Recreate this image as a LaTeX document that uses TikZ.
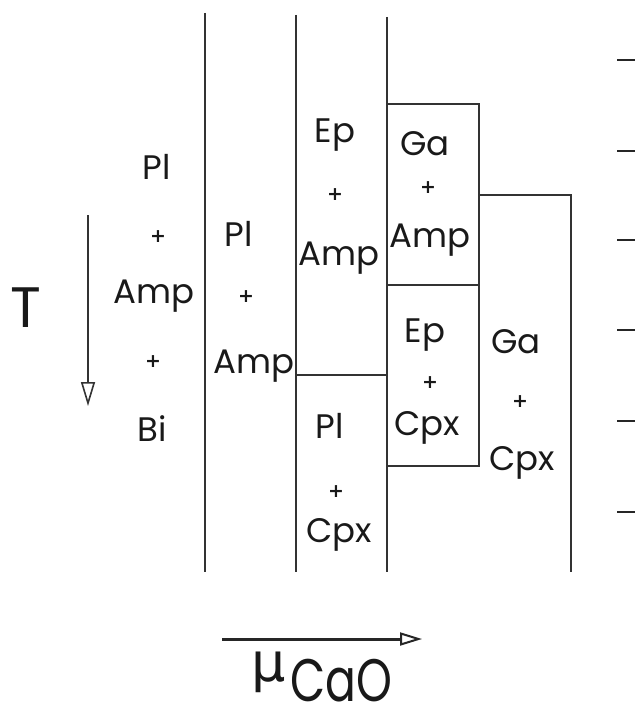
\documentclass[tikz,border=0pt]{standalone}
\usepackage{fontspec}
\setmainfont{Poppins}
\newfontfamily\greekfont{DejaVu Sans}
\usetikzlibrary{arrows.meta}
\begin{document}
\begin{tikzpicture}[x=1pt,y=-1pt,
  ln/.style={line width=1.6pt, draw=black!80},
  lbl/.style={font=\fontsize{34}{34}\selectfont, anchor=base, inner sep=0pt, text=black!90},
  pls/.style={font=\greekfont\fontsize{19}{19}\selectfont\bfseries, inner sep=0pt, text=black!90},
  tick/.style={line width=1.7pt, draw=black!85},
]
\useasboundingbox (0,0) rectangle (635,709);
% vertical boundaries
\coordinate (v1t) at (205,13);  \coordinate (v1b) at (205,572);
\coordinate (v2t) at (296,15);  \coordinate (v2b) at (296,572);
\coordinate (v3t) at (387,17);  \coordinate (v3b) at (387,572);
\draw[ln] (v1t) -- (v1b);
\draw[ln] (v2t) -- (v2b);
\draw[ln] (v3t) -- (v3b);
% box A
\coordinate (a1) at (387,104); \coordinate (a2) at (479,104);
\coordinate (a3) at (479,466); \coordinate (a4) at (387,466);
\coordinate (am1) at (387,285); \coordinate (am2) at (479,285);
\draw[ln] (a1) -- (a2) -- (a3) -- (a4);
\draw[ln] (am1) -- (am2);
% box B
\coordinate (b1) at (480,195); \coordinate (b2) at (571,195); \coordinate (b3) at (571,572);
\draw[ln] (b1) -- (b2) -- (b3);
% horizontal in column 3
\coordinate (h1) at (296,375); \coordinate (h2) at (387,375);
\draw[ln] (h1) -- (h2);
% ticks
\foreach \y [count=\i] in {60,151,240,330,421,512}{
  \coordinate (tk\i a) at (617,\y); \coordinate (tk\i b) at (635,\y);
  \draw[tick] (tk\i a) -- (tk\i b);
}
% T arrow
\coordinate (ta) at (88,215); \coordinate (tb) at (88,406);
\draw[ln, -{Triangle[open,length=24pt,width=14pt]}] (ta) -- (tb);
\node[font=\fontsize{57}{57}\selectfont, inner sep=0pt, anchor=base, text=black!90] (T) at (26,327) {T};
% mu arrow
\coordinate (ma) at (222,639); \coordinate (mb) at (422,639);
\draw[line width=3pt, draw=black!85, -{Triangle[open,length=22pt,width=13pt,line width=2pt]}] (ma) -- (mb);
\node[font=\greekfont\fontsize{54}{54}\selectfont, inner sep=0pt, anchor=base west, text=black!90] (mu) at (251,681) {μ};
\node[font=\fontsize{60}{60}\selectfont, inner sep=0pt, anchor=base west, text=black!90] (cao) at (290,701) {\scalebox{0.76}[1]{CaO}};
% column 1
\node[lbl] (c1a) at (157,179) {Pl};
\node[pls] (c1p1) at (158,237) {+};
\node[lbl] (c1b) at (154,303) {Amp};
\node[pls] (c1p2) at (153,362) {+};
\node[lbl] (c1c) at (152,441) {Bi};
% column 2
\node[lbl] (c2a) at (239,246) {Pl};
\node[pls] (c2p1) at (246,297) {+};
\node[lbl] (c2b) at (254,373) {Amp};
% column 3
\node[lbl] (c3a) at (335,142) {Ep};
\node[pls] (c3p1) at (335,195) {+};
\node[lbl] (c3b) at (339,265) {Amp};
\node[lbl] (c3c) at (330,438) {Pl};
\node[pls] (c3p2) at (336,492) {+};
\node[lbl] (c3d) at (339,542) {Cpx};
% column 4
\node[lbl] (c4a) at (425,155) {Ga};
\node[pls] (c4p1) at (428,188) {+};
\node[lbl] (c4b) at (430,247) {Amp};
\node[lbl] (c4c) at (425,342) {Ep};
\node[pls] (c4p2) at (430,383) {+};
\node[lbl] (c4d) at (427,435) {Cpx};
% column 5
\node[lbl] (c5a) at (516,353) {Ga};
\node[pls] (c5p1) at (520,402) {+};
\node[lbl] (c5b) at (522,470) {Cpx};
\end{tikzpicture}
\end{document}
